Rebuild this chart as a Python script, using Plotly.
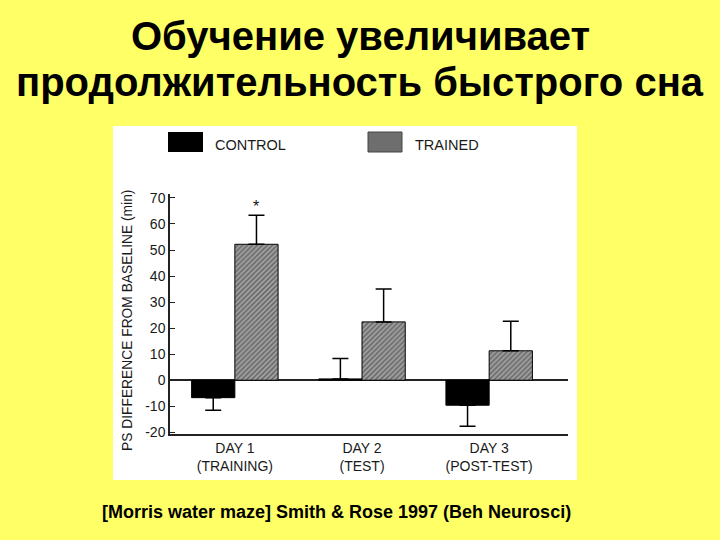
import plotly.graph_objects as go

# ---- data ----
days = ["DAY 1<br>(TRAINING)", "DAY 2<br>(TEST)", "DAY 3<br>(POST-TEST)"]
control = [-6.7, 0.5, -9.6]
control_err_up = [0, 7.8, 0]
control_err_down = [4.8, 0, 8.1]
trained = [52.2, 22.4, 11.3]
trained_err = [11.1, 12.6, 11.3]
yticks = [-20, -10, 0, 10, 20, 30, 40, 50, 60, 70]
ytick_labels = [str(v) for v in yticks]

W, H = 720, 540
L, R, T, B = 170, 152, 194, 106
PW, PH = W - L - R, H - T - B

def px(x):
    return (x - L) / PW

def py(y):
    return (H - B - y) / PH

FONT = "Liberation Sans, Arial, sans-serif"
BARGAP = 0.32
xs = list(range(len(days)))

fig = go.Figure()
fig.add_trace(go.Bar(
    x=xs, y=control, name="CONTROL",
    marker=dict(color="black", line=dict(color="black", width=1)),
    error_y=dict(type="data", symmetric=False, array=control_err_up,
                 arrayminus=control_err_down, color="black", thickness=1.5, width=8),
))
fig.add_trace(go.Bar(
    x=xs, y=trained, name="TRAINED",
    marker=dict(color="#9a9a9a", line=dict(color="black", width=1),
                pattern=dict(shape="/", fgcolor="#2a2a2a", bgcolor="#a2a2a2",
                             size=3.5, solidity=0.45)),
    error_y=dict(type="data", symmetric=False, array=trained_err,
                 arrayminus=[0, 0, 0], color="black", thickness=1.5, width=8),
))

bw = (1 - BARGAP) / 2

def ann(x, y, text, size, color="black", xanchor="center", **kw):
    return dict(x=px(x), y=py(y), xref="paper", yref="paper", text=text,
                showarrow=False, xanchor=xanchor, yanchor="middle",
                font=dict(family=FONT, size=size, color=color), **kw)

annotations = [
    dict(x=xs[0] + bw / 2, y=trained[0] + trained_err[0], xref="x", yref="y",
         text="*", showarrow=False, yanchor="bottom", xanchor="center", yshift=-2,
         font=dict(family=FONT, size=16, color="#111")),
    ann(360, 36, "<b>Обучение увеличивает</b>", 40),
    ann(360, 82, "<b>продолжительность быстрого сна</b>", 40),
    ann(336, 512, "<b>[Morris water maze] Smith &amp; Rose 1997 (Beh Neurosci)</b>", 18),
    ann(127, 321, "PS DIFFERENCE FROM BASELINE (min)", 13.8, color="#1a1a1a", textangle=-90),
    ann(213, 145, "CONTROL", 14.5, color="#1a1a1a", xanchor="left"),
    ann(413, 145, "TRAINED", 14.5, color="#1a1a1a", xanchor="left"),
]

shapes = [
    dict(type="rect", xref="paper", yref="paper", x0=px(113), x1=px(577),
         y0=py(480), y1=py(126), fillcolor="white", line=dict(width=0), layer="below"),
    dict(type="rect", xref="paper", yref="paper", x0=px(168), x1=px(203),
         y0=py(152), y1=py(132), fillcolor="black", line=dict(width=0)),
    dict(type="rect", xref="paper", yref="paper", x0=px(368), x1=px(402),
         y0=py(152), y1=py(132), fillcolor="#6e6e6e", line=dict(color="#444", width=1)),
]

fig.update_layout(
    width=W, height=H,
    margin=dict(l=L, r=R, t=T, b=B),
    paper_bgcolor="#FFFF66", plot_bgcolor="white",
    barmode="group", bargap=BARGAP, bargroupgap=0,
    showlegend=False,
    annotations=annotations, shapes=shapes,
    xaxis=dict(range=[-0.51, 2.62], tickvals=xs, ticktext=days, showgrid=False,
               showline=True, linecolor="#222", linewidth=1.5, ticks="",
               tickfont=dict(family=FONT, size=14, color="#1a1a1a"), zeroline=False),
    yaxis=dict(range=[-20.65, 71.5], tickvals=yticks, ticktext=ytick_labels,
               showgrid=False,
               showline=True, linecolor="#222", linewidth=1.5,
               ticks="inside", ticklen=5, tickcolor="#222",
               zeroline=True, zerolinecolor="#222", zerolinewidth=1.5,
               tickfont=dict(family=FONT, size=14, color="#1a1a1a")),
)

fig.write_html("out.html")
